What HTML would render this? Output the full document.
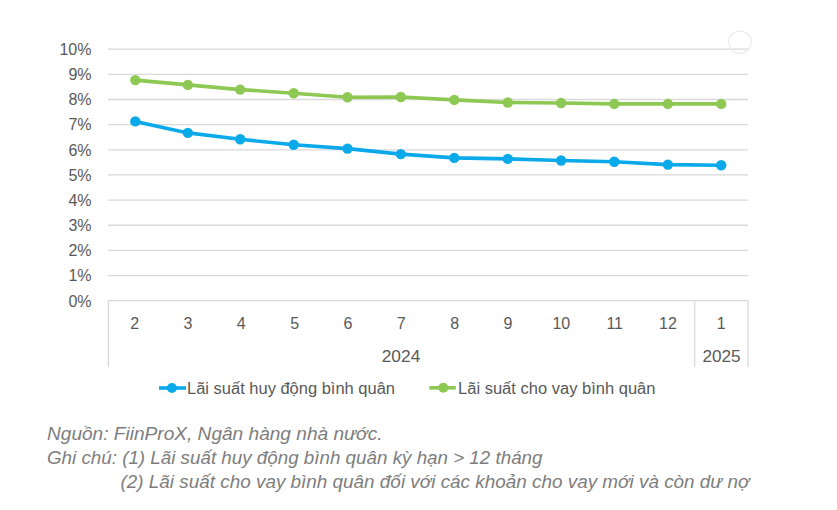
<!DOCTYPE html>
<html><head><meta charset="utf-8">
<style>
html,body{margin:0;padding:0;background:#fff;width:837px;height:510px;overflow:hidden;}
body{font-family:"Liberation Sans",sans-serif;position:relative;}
svg{position:absolute;left:0;top:0;}
</style></head><body>
<svg width="837" height="510" viewBox="0 0 837 510">
<g stroke="#d9d9d9" stroke-width="1.3">
<line x1="108" y1="49.20" x2="748" y2="49.20"/>
<line x1="108" y1="74.35" x2="748" y2="74.35"/>
<line x1="108" y1="99.50" x2="748" y2="99.50"/>
<line x1="108" y1="124.65" x2="748" y2="124.65"/>
<line x1="108" y1="149.80" x2="748" y2="149.80"/>
<line x1="108" y1="174.95" x2="748" y2="174.95"/>
<line x1="108" y1="200.10" x2="748" y2="200.10"/>
<line x1="108" y1="225.25" x2="748" y2="225.25"/>
<line x1="108" y1="250.40" x2="748" y2="250.40"/>
<line x1="108" y1="275.55" x2="748" y2="275.55"/>
<line x1="108" y1="300.70" x2="748" y2="300.70"/>
<line x1="108.4" y1="300.7" x2="108.4" y2="367"/>
<line x1="694.6" y1="300.7" x2="694.6" y2="367"/>
<line x1="748" y1="300.7" x2="748" y2="367"/>
</g>
<circle cx="740" cy="42.3" r="11.2" fill="none" stroke="#ebebeb" stroke-width="1.2"/>
<g font-size="16" fill="#595959" text-anchor="end">
<text x="91.5" y="55.00">10%</text>
<text x="91.5" y="80.15">9%</text>
<text x="91.5" y="105.30">8%</text>
<text x="91.5" y="130.45">7%</text>
<text x="91.5" y="155.60">6%</text>
<text x="91.5" y="180.75">5%</text>
<text x="91.5" y="205.90">4%</text>
<text x="91.5" y="231.05">3%</text>
<text x="91.5" y="256.20">2%</text>
<text x="91.5" y="281.35">1%</text>
<text x="91.5" y="306.50">0%</text>
</g>
<g font-size="16" fill="#595959" text-anchor="middle">
<text x="134.7" y="329">2</text>
<text x="188" y="329">3</text>
<text x="241.3" y="329">4</text>
<text x="294.7" y="329">5</text>
<text x="348" y="329">6</text>
<text x="401.3" y="329">7</text>
<text x="454.7" y="329">8</text>
<text x="508" y="329">9</text>
<text x="561.3" y="329">10</text>
<text x="614.7" y="329">11</text>
<text x="668" y="329">12</text>
<text x="721.3" y="329">1</text>
<text x="401" y="362" textLength="38.6" lengthAdjust="spacingAndGlyphs">2024</text>
<text x="721.5" y="362" textLength="38.2" lengthAdjust="spacingAndGlyphs">2025</text>
</g>
<polyline fill="none" stroke="#8cc852" stroke-width="3.6" stroke-linejoin="round" points="135.3,80.1 187.9,84.9 240.2,89.6 293.7,93.2 347.5,97.2 400.8,97.0 454.3,99.9 507.8,102.5 561.1,103.0 614.3,103.9 667.9,103.9 721.2,103.9"/>
<g fill="#8cc852">
<circle cx="135.3" cy="80.1" r="5.2"/><circle cx="187.9" cy="84.9" r="5.2"/><circle cx="240.2" cy="89.6" r="5.2"/><circle cx="293.7" cy="93.2" r="5.2"/><circle cx="347.5" cy="97.2" r="5.2"/><circle cx="400.8" cy="97.0" r="5.2"/><circle cx="454.3" cy="99.9" r="5.2"/><circle cx="507.8" cy="102.5" r="5.2"/><circle cx="561.1" cy="103.0" r="5.2"/><circle cx="614.3" cy="103.9" r="5.2"/><circle cx="667.9" cy="103.9" r="5.2"/><circle cx="721.2" cy="103.9" r="5.2"/>
</g>
<polyline fill="none" stroke="#0aa9ea" stroke-width="3.6" stroke-linejoin="round" points="135.3,121.4 187.9,132.9 240.2,139.3 293.7,144.8 347.5,148.6 400.8,154.1 454.3,157.9 507.8,158.9 561.1,160.5 614.3,161.7 667.9,164.6 721.2,165.3"/>
<g fill="#0aa9ea">
<circle cx="135.3" cy="121.4" r="5.2"/><circle cx="187.9" cy="132.9" r="5.2"/><circle cx="240.2" cy="139.3" r="5.2"/><circle cx="293.7" cy="144.8" r="5.2"/><circle cx="347.5" cy="148.6" r="5.2"/><circle cx="400.8" cy="154.1" r="5.2"/><circle cx="454.3" cy="157.9" r="5.2"/><circle cx="507.8" cy="158.9" r="5.2"/><circle cx="561.1" cy="160.5" r="5.2"/><circle cx="614.3" cy="161.7" r="5.2"/><circle cx="667.9" cy="164.6" r="5.2"/><circle cx="721.2" cy="165.3" r="5.2"/>
</g>
<!-- legend -->
<line x1="159" y1="388" x2="186" y2="388" stroke="#0aa9ea" stroke-width="3.6"/>
<circle cx="171.9" cy="388" r="5" fill="#0aa9ea"/>
<line x1="429.3" y1="387.8" x2="455.8" y2="387.8" stroke="#8cc852" stroke-width="3.6"/>
<circle cx="443.3" cy="387.8" r="5" fill="#8cc852"/>
<g font-size="16" fill="#595959">
<text x="187" y="393.5" textLength="208" lengthAdjust="spacingAndGlyphs">Lãi suất huy động bình quân</text>
<text x="458" y="393.5" textLength="197.5" lengthAdjust="spacingAndGlyphs">Lãi suất cho vay bình quân</text>
</g>
<g font-size="18.6" fill="#7d7d7d" font-style="italic">
<text x="47" y="440.2" textLength="335.5" lengthAdjust="spacingAndGlyphs">Nguồn: FiinProX, Ngân hàng nhà nước.</text>
<text x="47" y="464" textLength="495.5" lengthAdjust="spacingAndGlyphs">Ghi chú: (1) Lãi suất huy động bình quân kỳ hạn &gt; 12 tháng</text>
<text x="120.5" y="488.2" textLength="629" lengthAdjust="spacingAndGlyphs">(2) Lãi suất cho vay bình quân đối với các khoản cho vay mới và còn dư nợ</text>
</g>
</svg>
</body></html>
